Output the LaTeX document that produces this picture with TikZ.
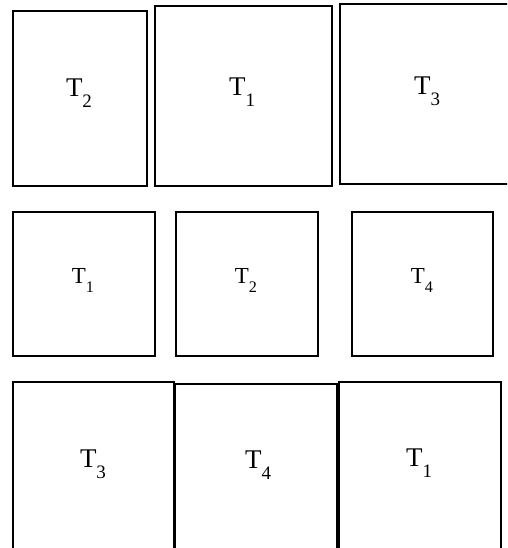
\documentclass[tikz,border=0pt]{standalone}
\usepackage{fontspec}
\setmainfont{Liberation Serif}
\usepackage{tikz}

\newcommand{\tlab}[1]{T\raisebox{-11pt}{\fontsize{19}{19}\selectfont #1}}

\begin{document}
\begin{tikzpicture}[x=1pt,y=-1pt,
  tbox/.style={draw=black,line width=1.8pt,rectangle,inner sep=0pt},
  tlabel/.style={anchor=base,font=\fontsize{27}{27}\selectfont,inner sep=0pt}]
\useasboundingbox (0,0) rectangle (507,548);
\clip (0,0) rectangle (507,548);
% first row
\node[tbox,minimum width=134pt,minimum height=175pt] (boxA) at (80,98.5) {};
\node[tbox,minimum width=177pt,minimum height=180pt] (boxB) at (243.5,96) {};
\node[tbox,minimum width=180pt,minimum height=180pt] (boxC) at (430,94) {};
\node[tlabel] (labA) at (79,97) {\tlab{2}};
\node[tlabel] (labB) at (242,96) {\tlab{1}};
\node[tlabel] (labC) at (427,95) {\tlab{3}};
% second row
\node[tbox,minimum width=142pt,minimum height=144pt] (boxD) at (84,284) {};
\node[tbox,minimum width=142pt,minimum height=144pt] (boxE) at (247,284) {};
\node[tbox,minimum width=141pt,minimum height=144pt] (boxF) at (422.5,284) {};
\node[tlabel,scale=0.85] (labD) at (83,283) {\tlab{1}};
\node[tlabel,scale=0.85] (labE) at (246,283) {\tlab{2}};
\node[tlabel,scale=0.85] (labF) at (422,283) {\tlab{4}};
% third row
\node[tbox,minimum width=161pt,minimum height=178pt] (boxG) at (93.5,471) {};
\node[tbox,minimum width=162pt,minimum height=178pt] (boxH) at (256,473) {};
\node[tbox,minimum width=162pt,minimum height=178pt] (boxI) at (420,471) {};
\node[tlabel] (labG) at (93,467) {\tlab{3}};
\node[tlabel] (labH) at (258,468) {\tlab{4}};
\node[tlabel] (labI) at (419,466) {\tlab{1}};
\end{tikzpicture}
\end{document}
